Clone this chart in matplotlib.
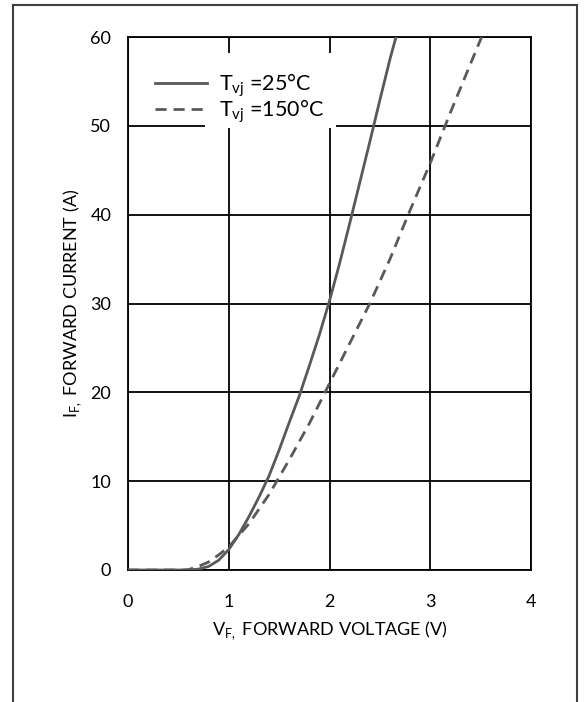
import matplotlib
matplotlib.use("Agg")
import matplotlib.pyplot as plt
from matplotlib.lines import Line2D
from matplotlib.patches import Rectangle

plt.rcParams["font.family"] = ["Lato", "DejaVu Sans"]
plt.rcParams["mathtext.fontset"] = "custom"
plt.rcParams["mathtext.rm"] = "Lato"

# forward characteristic
vf_25 = [0.0, 0.6, 0.7, 0.8, 0.9, 1.0, 1.1, 1.2, 1.3, 1.4, 1.5, 1.6, 1.7,
         1.8, 1.9, 2.0, 2.1, 2.2, 2.3, 2.4, 2.5, 2.6, 2.66]
if_25 = [0.0, 0.0, 0.1, 0.4, 1.1, 2.3, 4.0, 6.0, 8.2, 10.6, 13.5, 16.6, 19.6,
         23.0, 26.5, 30.3, 34.5, 39.0, 43.6, 48.2, 52.9, 57.5, 60.0]

vf_150 = [0.0, 0.55, 0.6, 0.7, 0.8, 0.9, 1.0, 1.2, 1.4, 1.6, 1.8, 2.0, 2.2,
          2.4, 2.6, 2.8, 3.0, 3.2, 3.4, 3.51]
if_150 = [0.0, 0.0, 0.05, 0.4, 0.9, 1.7, 2.6, 5.2, 8.5, 12.4, 16.5, 21.0, 25.5,
          30.0, 35.0, 40.5, 45.8, 51.5, 57.0, 60.0]

x_ticks = [0, 1, 2, 3, 4]
y_ticks = [0, 10, 20, 30, 40, 50, 60]

curve_color = "#595959"

fig = plt.figure(figsize=(5.85, 7.02), dpi=100)
ax = fig.add_axes([128 / 585, 132 / 702, 403 / 585, 533 / 702])

ax.set_xlim(0, 4)
ax.set_ylim(0, 60)
ax.set_xticks(x_ticks)
ax.set_yticks(y_ticks)
ax.tick_params(length=0, labelsize=13)
ax.tick_params(axis="x", pad=17)
ax.tick_params(axis="y", pad=12)
ax.grid(True, color="black", linewidth=1.3)
ax.set_axisbelow(True)
for s in ax.spines.values():
    s.set_linewidth(1.3)

# white box behind legend text (hides grid there, like the original)
ax.add_patch(Rectangle((0.765, 49.75), 1.3, 8.5, facecolor="white",
                       edgecolor="none", zorder=1.5))

ax.plot(vf_25, if_25, color=curve_color, linewidth=2, zorder=3,
        label=r"T$_{\mathregular{vj}}$ =25°C")
ax.plot(vf_150, if_150, color=curve_color, linewidth=2, zorder=3,
        dashes=(4, 2.5), label=r"T$_{\mathregular{vj}}$ =150°C")

leg = ax.legend(loc="upper left", bbox_to_anchor=(0.02, 0.972), frameon=False,
                fontsize=15.5, handlelength=2.4, handletextpad=0.55,
                labelspacing=-0.1)

ax.set_xlabel(r"V$_{\mathregular{F,}}$ FORWARD VOLTAGE (V)", fontsize=13, labelpad=7)
ax.set_ylabel(r"I$_{\mathregular{F,}}$ FORWARD CURRENT (A)", fontsize=13, labelpad=5)

# outer frame, open at the bottom
x0, x1, ytop = 13 / 585, 577 / 585, 1 - 5 / 702
fr = dict(color="#404040", linewidth=1.5)
fig.add_artist(Line2D([x0, x0], [0, ytop], **fr))
fig.add_artist(Line2D([x1, x1], [0, ytop], **fr))
fig.add_artist(Line2D([x0, x1], [ytop, ytop], **fr))

fig.savefig("out.png", dpi=100)
